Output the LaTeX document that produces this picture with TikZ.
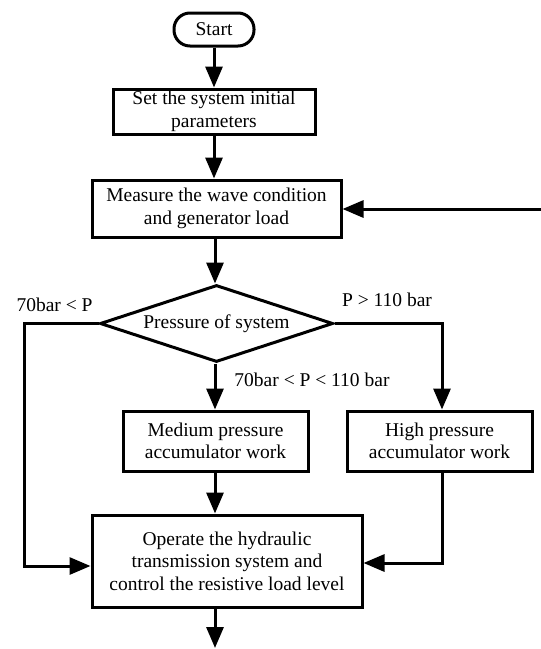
\documentclass[tikz,border=0pt]{standalone}
\usepackage{fontspec}
\setmainfont{Liberation Serif}
\usetikzlibrary{arrows.meta,shapes.geometric}
\begin{document}
\begin{tikzpicture}[x=1pt,y=-1pt,
  every node/.style={font=\fontsize{19.5}{22.5}\selectfont},
  box/.style={draw,line width=3pt,rectangle,align=center,inner sep=0pt},
  conn/.style={line width=3pt,-{Triangle[length=21pt,width=17pt]}},
  lbl/.style={inner sep=0pt}]
\useasboundingbox (0,0) rectangle (541,649);
\node[box,rounded corners=16pt,minimum width=80pt,minimum height=33pt] (start) at (214,29.5) {Start};
\node[box,minimum width=202pt,minimum height=45pt] (set) at (214,111.5) {Set the system initial\\parameters};
\node[box,minimum width=249pt,minimum height=57pt] (meas) at (216.5,208.5) {Measure the wave condition\\and generator load};
\node[draw,line width=3pt,diamond,aspect=3,inner sep=0pt,minimum width=233pt,minimum height=77pt] (dec) at (216.5,323.5) {Pressure of system};
\node[box,minimum width=185pt,minimum height=60pt] (med) at (215.5,441) {Medium pressure\\accumulator work};
\node[box,minimum width=185pt,minimum height=60pt] (high) at (439.5,441) {High pressure\\accumulator work};
\node[box,minimum width=270pt,minimum height=92pt] (op) at (227,561) {Operate the hydraulic\\transmission system and\\control the resistive load level};
\node[lbl] (l1) at (54.5,305) {70bar < P};
\node[lbl] (l2) at (387,300) {P > 110 bar};
\node[lbl] (l3) at (312,380) {70bar < P < 110 bar};
\coordinate (fb) at (541,209);
\coordinate (endc) at (215,648);
\coordinate (lc) at (24,323.5);
\coordinate (rc) at (442,323.5);
\draw[conn] (start.south -| 214,0) -- (set.north -| 214,0);
\draw[conn] (set.south -| 214,0) -- (meas.north -| 214,0);
\draw[conn] (meas.south -| 215,0) -- (dec.north -| 215,0);
\draw[conn] (fb) -- (meas.east |- fb);
\draw[conn] (dec.south -| 215,0) -- (med.north -| 215,0);
\draw[conn] (dec.east) -- (rc) -- (high.north -| rc);
\draw[conn] (dec.west) -- (lc) -- (24,566) -- (op.west |- 0,566);
\draw[conn] (med.south -| 215,0) -- (op.north -| 215,0);
\draw[conn] (high.south -| rc) -- (rc |- 0,563) -- (op.east |- 0,563);
\draw[conn] (op.south -| endc) -- (endc);
\end{tikzpicture}
\end{document}
